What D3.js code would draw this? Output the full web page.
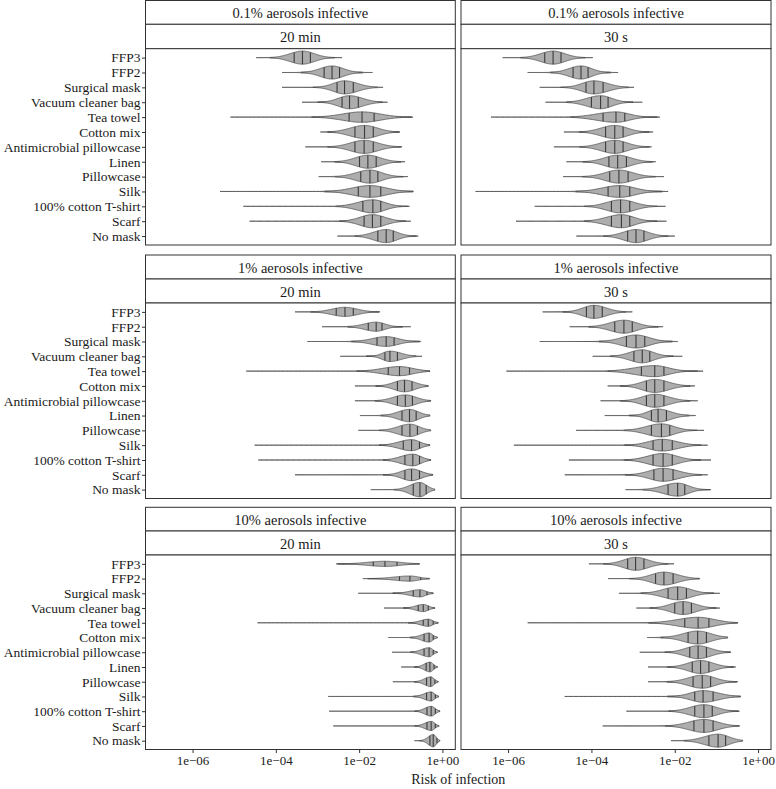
<!DOCTYPE html>
<html><head><meta charset="utf-8">
<script src="https://cdn.jsdelivr.net/npm/d3@7"></script>
<style>
body{margin:0;background:#fff}
svg{display:block}
text{font-family:"Liberation Serif","Times New Roman",serif;fill:#1a1a1a}
</style>
</head><body>
<svg id="chart" width="776" height="789"></svg>
<script>
// ---------- categories & labels ----------
const categories = ["FFP3","FFP2","Surgical mask","Vacuum cleaner bag","Tea towel","Cotton mix",
  "Antimicrobial pillowcase","Linen","Pillowcase","Silk","100% cotton T-shirt","Scarf","No mask"];
const infectiveLabels = ["0.1% aerosols infective","1% aerosols infective","10% aerosols infective"];
const durationLabels = ["20 min","30 s"];
const tickValues = [1e-6, 1e-4, 1e-2, 1];
const tickLabels = ["1e\u221206","1e\u221204","1e\u221202","1e+00"];
const xTitle = "Risk of infection";

// ---------- data: log10(risk of infection) summaries ----------
// 0.1% infective, 20 min
const min_01_20 = [-4.47,-3.85,-3.85,-3.37,-5.09,-2.93,-3.29,-2.91,-2.97,-5.34,-4.78,-4.63,-2.52];
const q1_01_20  = [-3.56,-2.84,-2.53,-2.41,-2.24,-2.10,-2.10,-1.99,-1.96,-2.02,-1.91,-1.88,-1.55];
const med_01_20 = [-3.36,-2.65,-2.35,-2.23,-1.93,-1.87,-1.88,-1.79,-1.74,-1.74,-1.67,-1.68,-1.35];
const q3_01_20  = [-3.17,-2.47,-2.14,-2.02,-1.64,-1.66,-1.66,-1.59,-1.55,-1.48,-1.48,-1.48,-1.18];
const max_01_20 = [-2.41,-1.68,-1.43,-1.32,-0.71,-1.03,-0.97,-0.90,-0.83,-0.70,-0.79,-0.76,-0.58];
const dens_01_20 = [1,1,1,1,0.8,1,1,1,1,0.9,1,1,1];
// 0.1% infective, 30 s
const min_01_30 = [-6.13,-5.53,-5.24,-5.10,-6.41,-4.66,-4.90,-4.60,-4.68,-6.78,-5.36,-5.81,-4.36];
const q1_01_30  = [-5.12,-4.44,-4.13,-4.00,-3.72,-3.66,-3.66,-3.58,-3.56,-3.60,-3.52,-3.52,-3.13];
const med_01_30 = [-4.92,-4.25,-3.94,-3.78,-3.41,-3.44,-3.44,-3.37,-3.34,-3.32,-3.30,-3.28,-2.93];
const q3_01_30  = [-4.73,-4.08,-3.72,-3.60,-3.20,-3.24,-3.24,-3.16,-3.12,-3.08,-3.08,-3.08,-2.74];
const max_01_30 = [-3.97,-3.36,-2.98,-2.78,-2.36,-2.52,-2.56,-2.46,-2.26,-2.16,-2.22,-2.20,-2.00];
const dens_01_30 = [1,1,1,1,0.8,1,1,1,1,0.9,1,1,1];
// 1% infective, 20 min
const min_1_20 = [-3.54,-2.89,-3.24,-2.45,-4.71,-2.10,-2.10,-1.98,-2.02,-4.51,-4.42,-3.54,-1.72];
const q1_1_20  = [-2.55,-1.78,-1.57,-1.38,-1.30,-1.08,-1.08,-0.97,-0.97,-0.94,-0.90,-0.90,-0.70];
const med_1_20 = [-2.34,-1.59,-1.35,-1.26,-1.03,-0.91,-0.89,-0.79,-0.78,-0.74,-0.71,-0.74,-0.54];
const q3_1_20  = [-2.14,-1.45,-1.16,-1.08,-0.79,-0.73,-0.72,-0.63,-0.60,-0.55,-0.55,-0.55,-0.39];
const max_1_20 = [-1.50,-0.76,-0.52,-0.49,-0.30,-0.34,-0.28,-0.30,-0.28,-0.30,-0.28,-0.23,-0.18];
const dens_1_20 = [0.7,0.7,0.75,0.8,0.7,0.9,0.9,0.95,0.95,0.85,0.9,0.9,1.1];
// 1% infective, 30 s
const min_1_30 = [-5.17,-4.52,-5.24,-3.97,-6.04,-3.61,-3.78,-3.68,-4.37,-5.86,-4.54,-4.64,-3.18];
const q1_1_30  = [-4.12,-3.44,-3.16,-2.98,-2.80,-2.68,-2.68,-2.56,-2.56,-2.52,-2.52,-2.50,-2.16];
const med_1_30 = [-3.94,-3.22,-2.93,-2.78,-2.48,-2.48,-2.48,-2.40,-2.32,-2.30,-2.28,-2.28,-1.93];
const q3_1_30  = [-3.74,-3.02,-2.72,-2.60,-2.26,-2.26,-2.26,-2.20,-2.12,-2.06,-2.06,-2.04,-1.76];
const max_1_30 = [-3.02,-2.28,-1.93,-1.82,-1.32,-1.52,-1.45,-1.50,-1.30,-1.21,-1.13,-1.21,-1.13];
const dens_1_30 = [1,1,1,1,0.85,1,1,1,1,0.9,1,1,1];
// 10% infective, 20 min
const min_10_20 = [-2.55,-1.91,-2.02,-1.40,-4.44,-1.30,-1.21,-0.99,-1.19,-2.74,-2.72,-2.62,-0.67];
const q1_10_20  = [-1.66,-1.03,-0.70,-0.58,-0.46,-0.44,-0.44,-0.39,-0.38,-0.38,-0.37,-0.37,-0.30];
const med_10_20 = [-1.38,-0.78,-0.54,-0.46,-0.34,-0.32,-0.32,-0.30,-0.28,-0.27,-0.27,-0.27,-0.22];
const q3_10_20  = [-1.09,-0.52,-0.37,-0.34,-0.22,-0.22,-0.22,-0.20,-0.18,-0.17,-0.17,-0.17,-0.13];
const max_10_20 = [-0.55,-0.31,-0.22,-0.18,-0.10,-0.12,-0.12,-0.12,-0.10,-0.09,-0.06,-0.08,-0.06];
const dens_10_20 = [0.4,0.4,0.55,0.55,0.55,0.7,0.7,0.75,0.75,0.7,0.75,0.7,0.95];
// 10% infective, 30 s
const min_10_30 = [-4.06,-3.60,-3.34,-2.92,-5.53,-2.66,-2.84,-2.64,-2.64,-4.64,-3.16,-3.73,-2.09];
const q1_10_30  = [-3.13,-2.46,-2.16,-2.00,-1.76,-1.68,-1.64,-1.58,-1.56,-1.52,-1.52,-1.54,-1.18];
const med_10_30 = [-2.94,-2.26,-1.93,-1.80,-1.44,-1.45,-1.44,-1.38,-1.34,-1.32,-1.30,-1.30,-0.96];
const q3_10_30  = [-2.74,-2.04,-1.72,-1.60,-1.18,-1.24,-1.24,-1.18,-1.14,-1.08,-1.10,-1.08,-0.78];
const max_10_30 = [-2.02,-1.40,-0.92,-0.92,-0.49,-0.73,-0.66,-0.54,-0.49,-0.42,-0.45,-0.45,-0.37];
const dens_10_30 = [1,1,1,1,0.85,1,1,1,1,0.9,1,1,1];

const panelData = [
  {row:0, col:0, min:min_01_20, q1:q1_01_20, med:med_01_20, q3:q3_01_20, max:max_01_20, dens:dens_01_20},
  {row:0, col:1, min:min_01_30, q1:q1_01_30, med:med_01_30, q3:q3_01_30, max:max_01_30, dens:dens_01_30},
  {row:1, col:0, min:min_1_20,  q1:q1_1_20,  med:med_1_20,  q3:q3_1_20,  max:max_1_20,  dens:dens_1_20},
  {row:1, col:1, min:min_1_30,  q1:q1_1_30,  med:med_1_30,  q3:q3_1_30,  max:max_1_30,  dens:dens_1_30},
  {row:2, col:0, min:min_10_20, q1:q1_10_20, med:med_10_20, q3:q3_10_20, max:max_10_20, dens:dens_10_20},
  {row:2, col:1, min:min_10_30, q1:q1_10_30, med:med_10_30, q3:q3_10_30, max:max_10_30, dens:dens_10_30}
];

// ---------- layout ----------
const colX = [[145.5, 455.3], [461, 771]];
const rowY = [
  {top:0.5,   s1:24.3, s2:48.7, bottom:245},
  {top:255,   s1:279,  s2:303,  bottom:498.5},
  {top:507.3, s1:531,  s2:555,  bottom:749.5}
];
const domain = [Math.pow(10,-7.13), Math.pow(10,0.31)];
const border = "#333";
const violinFill = "#adadad";
const violinStroke = "#555";
const serif = '"Liberation Serif","Times New Roman",serif';

const svg = d3.select("#chart");

panelData.forEach(p => {
  const [x0, x1] = colX[p.col];
  const r = rowY[p.row];
  const x = d3.scaleLog().domain(domain).range([x0, x1]);
  const y = d3.scalePoint().domain(categories).range([r.s2, r.bottom]).padding(0.6);
  const g = svg.append("g");

  // strips
  g.append("rect").attr("x", x0).attr("y", r.top).attr("width", x1-x0).attr("height", r.s1-r.top)
    .attr("fill", "#fff").attr("stroke", border).attr("stroke-width", 1);
  g.append("rect").attr("x", x0).attr("y", r.s1).attr("width", x1-x0).attr("height", r.s2-r.s1)
    .attr("fill", "#fff").attr("stroke", border).attr("stroke-width", 1);
  g.append("text").attr("x", (x0+x1)/2).attr("y", (r.top+r.s1)/2 + 0.5).attr("text-anchor","middle")
    .attr("dominant-baseline","central").attr("font-size", 14.5).text(infectiveLabels[p.row]);
  g.append("text").attr("x", (x0+x1)/2).attr("y", (r.s1+r.s2)/2 + 0.5).attr("text-anchor","middle")
    .attr("dominant-baseline","central").attr("font-size", 14.5).text(durationLabels[p.col]);

  // panel frame
  g.append("rect").attr("x", x0).attr("y", r.s2).attr("width", x1-x0).attr("height", r.bottom-r.s2)
    .attr("fill", "#fff").attr("stroke", border).attr("stroke-width", 1);

  const clipId = `clip${p.row}${p.col}`;
  svg.append("clipPath").attr("id", clipId).append("rect")
    .attr("x", x0).attr("y", r.s2).attr("width", x1-x0).attr("height", r.bottom-r.s2);
  const plot = g.append("g").attr("clip-path", `url(#${clipId})`);

  const step = y.step();
  categories.forEach((cat, i) => {
    const d = {min:p.min[i], q1:p.q1[i], med:p.med[i], q3:p.q3[i], max:p.max[i]};
    const H = p.dens[i] * step * 0.44;
    const yc = y(cat);
    const X = v => x(Math.pow(10, v));
    const iqr = d.q3 - d.q1;
    const lw = Math.max(d.min, d.q1 - 1.5*iqr);
    const uw = Math.min(d.max, d.q3 + 1.5*iqr);
    const sdL = Math.min((d.med - d.q1)/0.674, (d.med - d.min)/2.3);
    const sdR = Math.min((d.q3 - d.med)/0.674, (d.max - d.med)/2.3);
    const half = v => {
      const z = v < d.med ? (v - d.med)/sdL : (v - d.med)/sdR;
      return H * Math.exp(-0.5*z*z);
    };
    // whiskers (boxplot)
    plot.append("line").attr("x1", X(lw)).attr("x2", X(uw)).attr("y1", yc).attr("y2", yc)
      .attr("stroke", "#2a2a2a").attr("stroke-width", 1.4);
    // violin outline
    const n = 140;
    const vs = d3.range(n+1).map(k => d.min + (d.max - d.min)*k/n);
    vs.push(d.q1, d.med, d.q3);
    vs.sort((a,b)=>a-b);
    const top = vs.map(v => [X(v), yc - half(v)]);
    const bot = vs.slice().reverse().map(v => [X(v), yc + half(v)]);
    plot.append("path").attr("d", d3.line()(top.concat(bot)) + "Z")
      .attr("fill", violinFill).attr("stroke", violinStroke).attr("stroke-width", 0.8)
      .attr("stroke-linejoin","round");
    // quantile lines
    [d.q1, d.med, d.q3].forEach(v => {
      const h = half(v);
      plot.append("line").attr("x1", X(v)).attr("x2", X(v)).attr("y1", yc-h).attr("y2", yc+h)
        .attr("stroke", "#3a3a3a").attr("stroke-width", 1.1);
    });
  });

  // y axis on left column only
  if (p.col === 0) {
    const ya = d3.axisLeft(y).tickSize(3.5).tickPadding(1.5);
    const ag = g.append("g").attr("transform", `translate(${x0},0)`).call(ya);
    ag.select(".domain").remove();
    ag.selectAll(".tick line").attr("stroke", border);
    ag.selectAll(".tick text").attr("font-size", 13.5).attr("fill", "#1a1a1a")
      .style("font-family", serif);
  }
  // x axis on bottom row only
  if (p.row === 2) {
    const xa = d3.axisBottom(x).tickValues(tickValues).tickFormat((v,i) => tickLabels[i])
      .tickSize(3.5).tickPadding(3);
    const ag = g.append("g").attr("transform", `translate(0,${r.bottom})`).call(xa);
    ag.select(".domain").remove();
    ag.selectAll(".tick line").attr("stroke", border);
    ag.selectAll(".tick text").attr("font-size", 13).attr("fill", "#1a1a1a")
      .style("font-family", serif);
  }
});

svg.append("text").attr("x", (colX[0][0] + colX[1][1])/2).attr("y", 784)
  .attr("text-anchor","middle").attr("font-size", 14).text(xTitle);
</script>
</body></html>
